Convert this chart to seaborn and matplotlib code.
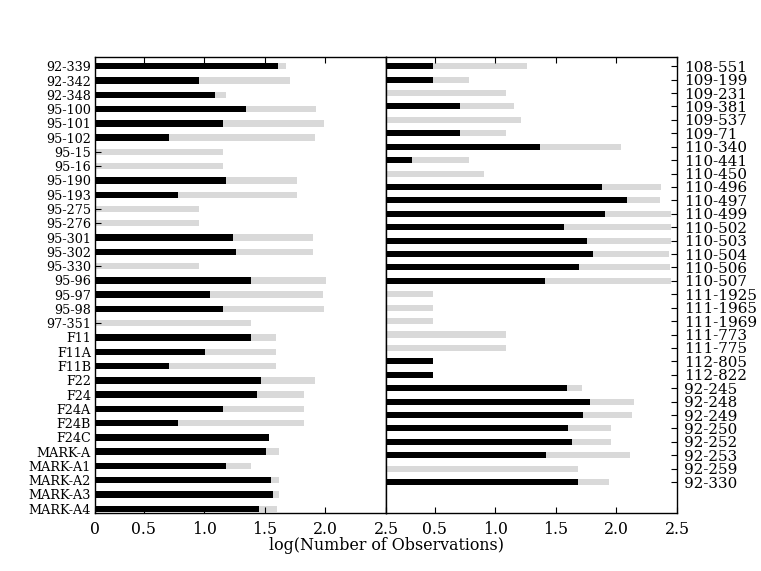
import numpy as np
import pandas as pd
import matplotlib
matplotlib.use('Agg')
import matplotlib.pyplot as plt
import seaborn as sns

# left panel
left_labels = ['92-339', '92-342', '92-348', '95-100', '95-101', '95-102', '95-15', '95-16',
               '95-190', '95-193', '95-275', '95-276', '95-301', '95-302', '95-330', '95-96',
               '95-97', '95-98', '97-351', 'F11', 'F11A', 'F11B', 'F22', 'F24',
               'F24A', 'F24B', 'F24C', 'MARK-A', 'MARK-A1', 'MARK-A2', 'MARK-A3', 'MARK-A4']
left_total = [1.675, 1.711, 1.182, 1.925, 1.990, 1.916, 1.152, 1.152,
              1.766, 1.766, 0.960, 0.960, 1.900, 1.900, 0.960, 2.007,
              1.979, 1.990, 1.385, 1.596, 1.596, 1.596, 1.911, 1.821,
              1.821, 1.821, 1.536, 1.615, 1.382, 1.615, 1.615, 1.604]
left_subset = [1.607, 0.960, 1.086, 1.347, 1.152, 0.708, 0.0, 0.0,
               1.182, 0.785, 0.0, 0.0, 1.237, 1.262, 0.0, 1.385,
               1.048, 1.152, 0.0, 1.385, 1.007, 0.708, 1.467, 1.437,
               1.152, 0.785, 1.536, 1.511, 1.182, 1.549, 1.571, 1.453]

# right panel
right_labels = ['108-551', '109-199', '109-231', '109-381', '109-537', '109-71', '110-340', '110-441',
                '110-450', '110-496', '110-497', '110-499', '110-502', '110-503', '110-504', '110-506',
                '110-507', '111-1925', '111-1965', '111-1969', '111-773', '111-775', '112-805', '112-822',
                '92-245', '92-248', '92-249', '92-250', '92-252', '92-253', '92-259', '92-330']
right_total = [1.264, 0.786, 1.091, 1.157, 1.214, 1.091, 2.041, 0.786,
               0.912, 2.371, 2.363, 2.448, 2.448, 2.448, 2.434, 2.440,
               2.448, 0.489, 0.489, 0.489, 1.091, 1.091, 0.489, 0.489,
               1.717, 2.143, 2.132, 1.953, 1.953, 2.113, 1.681, 1.940]
right_subset = [0.489, 0.489, 0.0, 0.709, 0.0, 0.709, 1.374, 0.310,
                0.0, 1.885, 2.088, 1.907, 1.566, 1.758, 1.808, 1.692,
                1.409, 0.0, 0.0, 0.0, 0.0, 0.0, 0.489, 0.489,
                1.591, 1.780, 1.725, 1.602, 1.635, 1.423, 0.0, 1.681]

x_ticks = [0.1, 0.5, 1.0, 1.5, 2.0, 2.5]
left_xticklabels = ['0', '0.5', '1.0', '1.5', '2.0', '2.5']
right_xticklabels = ['', '0.5', '1.0', '1.5', '2.0', '2.5']

GREY = '#d9d9d9'

plt.rcParams['font.family'] = ['DejaVu Serif']
plt.rcParams['xtick.direction'] = 'in'
plt.rcParams['ytick.direction'] = 'in'
plt.rcParams['xtick.major.size'] = 4
plt.rcParams['ytick.major.size'] = 4

fig, (ax1, ax2) = plt.subplots(1, 2, figsize=(7.61, 5.71), dpi=100)
fig.subplots_adjust(left=0.125, right=0.8896, bottom=0.101, top=0.9007, wspace=0)


def draw_panel(ax, labels, total, subset, ylim):
    df = pd.DataFrame({'label': labels, 'total': total, 'subset': subset})
    sns.barplot(data=df, x='total', y='label', color=GREY, width=0.45,
                saturation=1, linewidth=0, ax=ax)
    sns.barplot(data=df, x='subset', y='label', color='black', width=0.45,
                saturation=1, linewidth=0, ax=ax)
    ax.set_xlim(0.1, 2.5)
    ax.set_ylim(*ylim)
    ax.set_xlabel('')
    ax.set_ylabel('')
    ax.set_xticks(x_ticks)
    ax.tick_params(axis='x', top=True, bottom=True, labelsize=11.3, pad=5.5)
    for s in ax.spines.values():
        s.set_linewidth(1.0)
        s.set_color('black')


draw_panel(ax1, left_labels, left_total, left_subset, (31.32, -0.67))
ax1.set_xticklabels(left_xticklabels)
ax1.tick_params(axis='y', left=True, right=False, labelsize=9.2, pad=3)

draw_panel(ax2, right_labels, right_total, right_subset, (33.33, -0.71))
ax2.set_xticklabels(right_xticklabels)
ax2.yaxis.tick_right()
ax2.yaxis.set_label_position('right')
ax2.tick_params(axis='y', left=False, right=True, labelsize=10.9, pad=5)

fig.text(0.5075, 0.045, 'log(Number of Observations)', ha='center', va='center', fontsize=11.4)

plt.savefig('out.png', dpi=100)
plt.close()
